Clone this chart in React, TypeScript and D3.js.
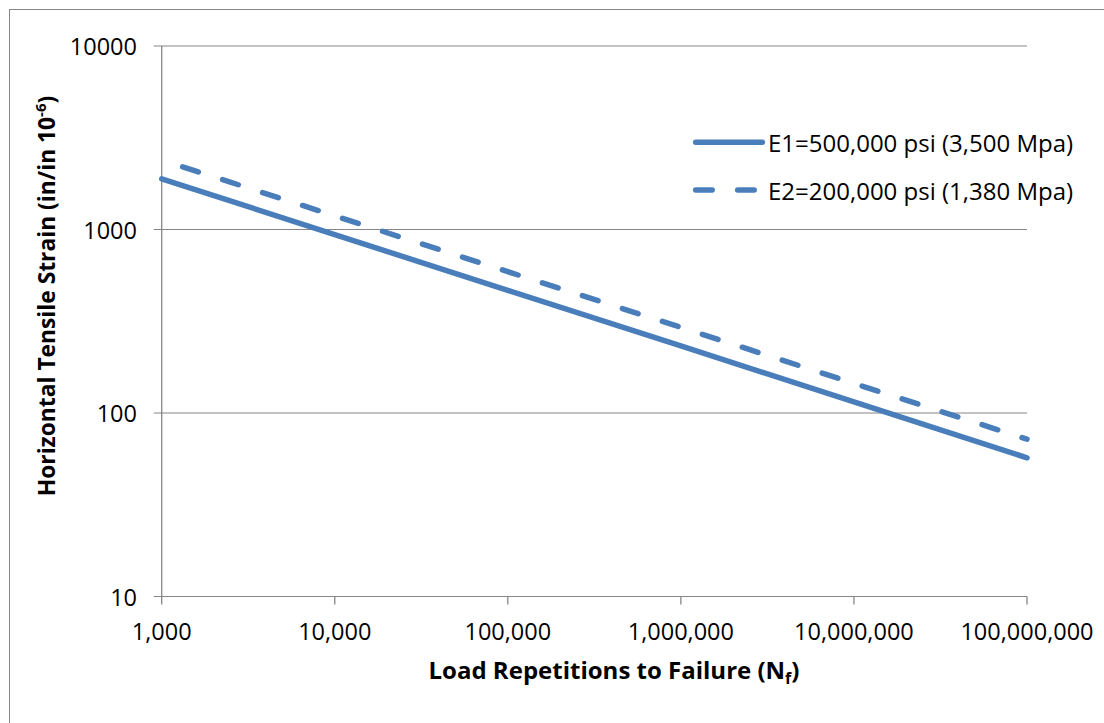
import React from "react";
import * as d3 from "d3";

// Fatigue relationship: horizontal tensile strain vs. load repetitions to failure
const loadRepetitions = [1e3, 1e4, 1e5, 1e6, 1e7, 1e8];
const strainE1 = [1890, 938, 466, 232, 115, 57];
const strainE2 = [2390, 1187, 589, 293, 145, 72];

const seriesNames = ["E1=500,000 psi (3,500 Mpa)", "E2=200,000 psi (1,380 Mpa)"];
const xTicks = [1e3, 1e4, 1e5, 1e6, 1e7, 1e8];
const yTicks = [10, 100, 1000, 10000];

const W = 1104;
const H = 723;
const plot = { left: 161.7, right: 1027, top: 46, bottom: 596.5 };

const BLUE = "#4A7EBB";
const GRID = "#868686";
const FONT = "'Open Sans', Lato, sans-serif";

export default function App() {
  const x = d3.scaleLog().domain([1e3, 1e8]).range([plot.left, plot.right]);
  const y = d3.scaleLog().domain([10, 10000]).range([plot.bottom, plot.top]);
  const fmt = d3.format(",");

  const line = d3
    .line<[number, number]>()
    .x((d) => x(d[0]))
    .y((d) => y(d[1]));

  const e1 = line(loadRepetitions.map((n, i) => [n, strainE1[i]] as [number, number])) || "";
  const e2 = line(loadRepetitions.map((n, i) => [n, strainE2[i]] as [number, number])) || "";

  const legendX0 = 695.7;
  const legendX1 = 762.3;
  const legendY = [142.3, 190];

  return (
    <div style={{ position: "fixed", left: 0, top: 0, width: W, height: H, background: "#fff" }}>
      <svg width={W} height={H} style={{ display: "block" }} fontFamily={FONT}>
        <rect x={9.5} y={9.5} width={W + 20} height={H + 20} fill="#fff" stroke={GRID} strokeWidth={1} />

        {/* horizontal gridlines with left tick marks */}
        {yTicks.map((t) => (
          <g key={t}>
            <line x1={plot.left - 8} x2={plot.right} y1={y(t)} y2={y(t)} stroke={GRID} strokeWidth={1.2} />
            <text
              x={137}
              y={y(t)}
              textAnchor="end"
              dominantBaseline="central"
              fontSize={23.5}
              fill="#000"
            >
              {t}
            </text>
          </g>
        ))}

        {/* y axis */}
        <line x1={plot.left} x2={plot.left} y1={plot.top} y2={plot.bottom} stroke={GRID} strokeWidth={1.3} />

        {/* x ticks and labels */}
        {xTicks.map((t) => (
          <g key={t}>
            <line x1={x(t)} x2={x(t)} y1={plot.bottom} y2={plot.bottom + 8} stroke={GRID} strokeWidth={1.3} />
            <text x={x(t)} y={640} textAnchor="middle" fontSize={23.5} fill="#000">
              {fmt(t)}
            </text>
          </g>
        ))}

        {/* data series */}
        <path d={e1} fill="none" stroke={BLUE} strokeWidth={5.5} strokeLinecap="round" />
        <path
          d={e2}
          fill="none"
          stroke={BLUE}
          strokeWidth={5.5}
          strokeLinecap="round"
          strokeDasharray="16.5 25.5"
          strokeDashoffset={20}
        />

        {/* legend */}
        <line x1={legendX0} x2={legendX1} y1={legendY[0]} y2={legendY[0]} stroke={BLUE} strokeWidth={5.5} strokeLinecap="round" />
        <line
          x1={legendX0}
          x2={legendX1}
          y1={legendY[1]}
          y2={legendY[1]}
          stroke={BLUE}
          strokeWidth={5.5}
          strokeLinecap="round"
          strokeDasharray="16.5 25.5"
        />
        {seriesNames.map((name, i) => (
          <text key={name} x={768} y={legendY[i]} dominantBaseline="central" fontSize={24} fill="#000">
            {name}
          </text>
        ))}

        {/* axis titles */}
        <text x={614} y={679} textAnchor="middle" fontSize={24} fontWeight="bold" fill="#000">
          Load Repetitions to Failure (N
          <tspan fontSize={16} dy={5}>f</tspan>
          <tspan dy={-5}>)</tspan>
        </text>
        <text
          transform="translate(55,296) rotate(-90)"
          textAnchor="middle"
          fontSize={22.8}
          fontWeight="bold"
          fill="#000"
        >
          Horizontal Tensile Strain (in/in 10
          <tspan fontSize={15} dy={-9}>-6</tspan>
          <tspan dy={9}>)</tspan>
        </text>
      </svg>
    </div>
  );
}
